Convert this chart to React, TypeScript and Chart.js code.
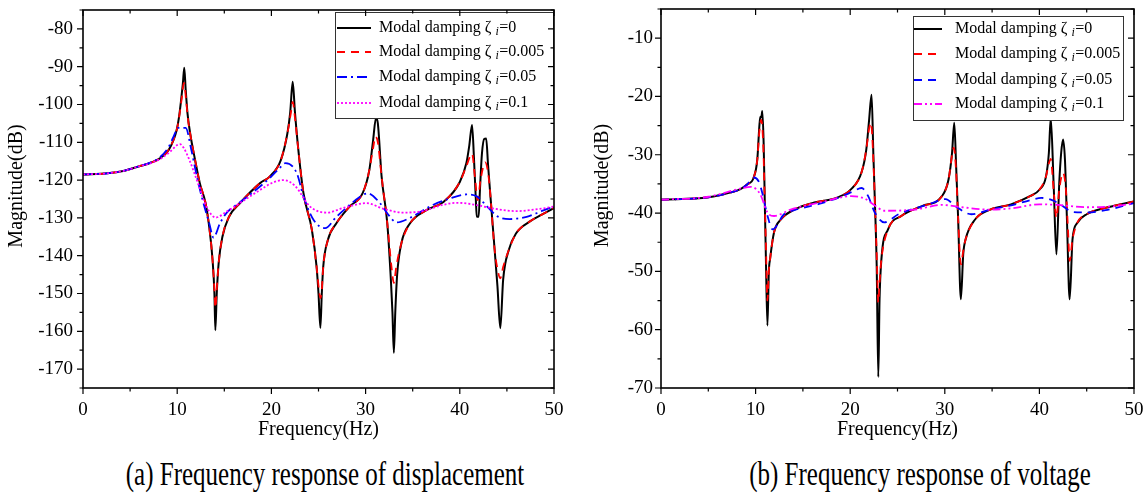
import { useEffect, useRef } from 'react';
import { Chart, registerables } from 'chart.js';

Chart.register(...registerables);

type Pt = [number, number];

const FONT = "'Liberation Serif', 'Times New Roman', Times, serif";

// ---------- texts & ticks ----------
const dampingLabels = ['0', '0.005', '0.05', '0.1'];
const xTickValues = [0, 10, 20, 30, 40, 50];
const dispYTickValues = [-170, -160, -150, -140, -130, -120, -110, -100, -90, -80];
const voltYTickValues = [-70, -60, -50, -40, -30, -20, -10];
const xLabel = 'Frequency(Hz)';
const yLabel = 'Magnitude(dB)';
const captionA = '(a) Frequency response of displacement';
const captionB = '(b) Frequency response of voltage';

// ---------- (a) displacement: [frequency Hz, magnitude dB] ----------
const dispZeta0: Pt[] = [
  [0, -118.5], [2.6, -118.2], [4.4, -117.5], [5.9, -116.4], [7.2, -115.4], [8.2, -114.2], [9.1, -112],
  [9.6, -109.4], [9.95, -106.7], [10.2, -103.2], [10.45, -98], [10.6, -94.5], [10.75, -90.3], [10.9, -96],
  [11.1, -102.5], [11.4, -108], [11.9, -114.7], [12.4, -120.8], [13.0, -126], [13.4, -132.4], [13.75, -141],
  [13.95, -150], [14.05, -159.7], [14.2, -150], [14.4, -142], [14.8, -135], [15.5, -129.7], [16.7, -126],
  [18.8, -120.8], [19.85, -119], [21.0, -114.7], [21.7, -107.6], [22.0, -102], [22.26, -94], [22.5, -102],
  [22.86, -112], [23.4, -123.4], [24.3, -133.2], [24.8, -143], [25.0, -150], [25.2, -159.1], [25.35, -150],
  [25.5, -143], [26.0, -135.8], [26.9, -131.4], [28.3, -127], [29.7, -123.4], [30.4, -117.3], [30.8, -109.4],
  [31.1, -103.6], [31.3, -105], [31.7, -119.1], [32.3, -131.4], [32.7, -147.2], [32.85, -155], [33.0, -165.7],
  [33.15, -155], [33.35, -145], [33.8, -136.7], [34.7, -131.5], [36.5, -127.9], [38.3, -125.7], [40.0, -120.5],
  [40.7, -115.5], [41.0, -111], [41.3, -105.4], [41.5, -114], [41.7, -125], [41.8, -129.7], [42.0, -129.7],
  [42.15, -122], [42.35, -113], [42.6, -109.1], [42.8, -109], [43.0, -116], [43.2, -122.6], [43.7, -138.5],
  [44.0, -148.2], [44.3, -159.2], [44.6, -146.4], [45.2, -138.5], [46.0, -134], [47.4, -131], [48.8, -129],
  [50, -127.4],
];
const dispZeta005: Pt[] = [
  [0, -118.5], [2.6, -118.2], [4.4, -117.5], [5.9, -116.4], [7.2, -115.4], [8.2, -114.2], [9.1, -112],
  [9.6, -109.4], [9.95, -106.7], [10.2, -103.4], [10.45, -99], [10.72, -94.3], [10.95, -99], [11.15, -104],
  [11.4, -108], [11.9, -114.7], [12.4, -120.8], [13.0, -126], [13.4, -132.4], [13.75, -141], [13.95, -149],
  [14.05, -153.8], [14.2, -149], [14.4, -142], [14.8, -135], [15.5, -129.7], [16.7, -126], [18.8, -120.8],
  [19.85, -119], [21.0, -114.7], [21.7, -107.6], [22.05, -102.5], [22.26, -99.3], [22.5, -103.5], [22.86, -112],
  [23.4, -123.4], [24.3, -133.2], [24.8, -143], [25.05, -149], [25.2, -151.2], [25.35, -149], [25.5, -143],
  [26.0, -135.8], [26.9, -131.4], [28.3, -127], [29.7, -123.4], [30.4, -117.3], [30.8, -111.5], [31.05, -108.5],
  [31.3, -110], [31.7, -119.1], [32.3, -131.4], [32.75, -143], [33.0, -147.2], [33.25, -143], [33.8, -136.7],
  [34.7, -131.5], [36.5, -127.9], [38.3, -125.7], [40.0, -120.5], [40.7, -116.3], [41.3, -113], [41.6, -119],
  [41.9, -125.3], [42.2, -120], [42.7, -115.3], [43.0, -118], [43.2, -122.6], [43.7, -138.5], [44.0, -143.5],
  [44.3, -146], [44.6, -143], [45.2, -138.5], [46.0, -134], [47.4, -131], [48.8, -129], [50, -127.4],
];
const dispZeta05: Pt[] = [
  [0, -118.5], [2.6, -118.2], [4.4, -117.5], [5.9, -116.4], [7.2, -115.3], [8.2, -113.9], [9.1, -111.2],
  [9.6, -108.6], [10.1, -106.2], [10.9, -106.2], [11.5, -112], [12.0, -118], [12.6, -124.4], [13.4, -131.4],
  [13.85, -135.2], [14.55, -131.4], [15.2, -128.8], [16.7, -125.8], [18.0, -123.3], [19.85, -119.4],
  [20.8, -117], [21.5, -115.5], [22.7, -118.2], [23.4, -124.3], [24.5, -130.6], [25.7, -132.7], [26.9, -129.7],
  [28.3, -126.6], [29.3, -124.6], [30.2, -123.5], [31.5, -126], [32.3, -128.8], [33.3, -131.2], [34.7, -130],
  [36.8, -127], [38.9, -124.9], [40.7, -123.8], [41.8, -124.3], [42.9, -127], [44.0, -129.6], [45.3, -130.3],
  [47.1, -129.7], [48.8, -128.1], [50, -127],
];
const dispZeta1: Pt[] = [
  [0, -118.5], [2.6, -118.2], [4.4, -117.5], [5.9, -116.4], [7.2, -115.5], [8.2, -114.4], [9.25, -112.5],
  [9.95, -110.8], [10.3, -110.5], [10.7, -111.5], [11.3, -114.7], [12.2, -120.8], [13.1, -127], [14.1, -129.9],
  [15.2, -128.4], [16.7, -126], [18.8, -122.6], [20.2, -120.6], [21.3, -120], [22.5, -121.5], [24.1, -127],
  [25.9, -128.6], [27.6, -127.4], [30.1, -126.1], [31.9, -127.6], [34, -128.6], [36, -128.2], [38.3, -126.5],
  [39.7, -126], [41.8, -126.6], [43.5, -127.5], [46, -128.2], [48.8, -127.5], [50, -127],
];

// ---------- (b) voltage: [frequency Hz, magnitude dB] ----------
const voltZeta0: Pt[] = [
  [0, -37.7], [5, -37.3], [7.5, -36.4], [8.4, -35.9], [9.1, -35.1], [9.8, -33.9], [10.18, -30.8], [10.4, -25],
  [10.5, -23.5], [10.6, -23.6], [10.71, -22.5], [10.85, -28], [10.97, -38], [11.07, -46.2], [11.25, -59.3],
  [11.4, -50], [11.53, -47.9], [11.95, -43.3], [12.67, -41.1], [14.1, -39.4], [16.2, -38.2], [18.7, -37.3],
  [20.1, -35.9], [21.2, -33], [21.7, -29.1], [22.0, -24], [22.26, -19.7], [22.45, -30], [22.6, -37.6],
  [22.8, -49], [22.97, -68.1], [23.1, -55], [23.3, -47.9], [24.0, -42.8], [25.4, -40.5], [27.6, -38.8],
  [29.7, -37.1], [30.4, -34.2], [30.77, -29.6], [31.0, -24.5], [31.2, -32], [31.4, -40.5], [31.7, -54.8],
  [31.95, -47], [32.2, -44.5], [33.2, -41.1], [34.8, -39.4], [37, -38.5], [39, -37.1], [40, -36], [40.7, -33.7],
  [41.0, -29.7], [41.2, -23.7], [41.5, -34.8], [41.8, -47.1], [42.1, -34.8], [42.3, -29.7], [42.5, -27.4],
  [42.7, -30.8], [42.9, -40.5], [43.2, -54.8], [43.5, -44.5], [44, -41.7], [45, -40.2], [47, -39.1], [50, -38],
];
const voltZeta005: Pt[] = [
  [0, -37.7], [5, -37.3], [7.5, -36.4], [8.4, -35.9], [9.1, -35.1], [9.8, -33.9], [10.18, -30.8], [10.4, -26],
  [10.6, -24], [10.8, -28], [10.97, -38], [11.1, -46], [11.25, -55], [11.4, -50], [11.53, -47.9], [11.95, -43.3],
  [12.67, -41.1], [14.1, -39.4], [16.2, -38.2], [18.7, -37.3], [20.1, -35.9], [21.2, -33], [21.7, -29.1],
  [22.0, -25.5], [22.2, -24.5], [22.45, -31], [22.6, -37.6], [22.8, -47], [22.97, -55.3], [23.1, -52],
  [23.3, -47.9], [24.0, -42.8], [25.4, -40.5], [27.6, -38.8], [29.7, -37.1], [30.4, -34.2], [30.77, -30],
  [30.95, -28.8], [31.2, -33], [31.4, -40.5], [31.7, -48.8], [31.95, -46.5], [32.2, -44.5], [33.2, -41.1],
  [34.8, -39.4], [37, -38.5], [39, -37.1], [40, -36], [40.7, -33.7], [41.0, -31.5], [41.2, -30.7], [41.5, -36],
  [41.8, -40.8], [42.1, -36], [42.5, -33.1], [42.8, -36], [43.0, -42], [43.2, -48.2], [43.5, -44.5], [44, -41.7],
  [45, -40.2], [47, -39.1], [50, -38],
];
const voltZeta05: Pt[] = [
  [0, -37.7], [5, -37.3], [7.5, -36.4], [8.4, -35.9], [9.1, -35.1], [9.8, -33.9], [10.3, -34.5], [10.7, -36.5],
  [11.25, -40.4], [11.8, -42.8], [13, -40.2], [14.1, -39.5], [17, -38.3], [19, -37.2], [20.3, -36.3],
  [21.2, -35.7], [21.9, -37.1], [22.6, -39.9], [23.6, -41.6], [25.1, -40.2], [28.3, -38.5], [30.1, -37.6],
  [31.1, -38.8], [32.8, -40.2], [34.8, -39.4], [37, -38.7], [39, -37.8], [40.2, -37.4], [41.2, -37.7],
  [42.2, -38.5], [43.5, -39.8], [45, -39.9], [47, -39.5], [50, -38.3],
];
const voltZeta1: Pt[] = [
  [0, -37.7], [5, -37.2], [8.4, -35.8], [9.5, -35.5], [10.5, -36.8], [11.25, -39.9], [11.95, -40.5],
  [13.7, -39.4], [17.3, -38], [20.1, -37.1], [21.5, -37.5], [22.6, -38.7], [23.6, -39.6], [26.8, -39.4],
  [29.7, -38.6], [31.8, -39], [34.8, -39.4], [37, -39.2], [40, -38.5], [42, -38.6], [45, -39], [48, -38.8],
  [50, -38.3],
];

// ---------- styling ----------
interface SeriesStyle { color: string; width: number; dash: number[] }
interface LegendStyle {
  left: number; top: number; width: number; height: number;
  rows: number[]; lineX0: number; lineX1: number; textX: number;
}
interface PanelCfg {
  x: number; width: number; height: number;
  padTop: number; padRight: number; padBottom: number; yAxisWidth: number; yTickPad: number;
  yMin: number; yMax: number; yTicks: number[];
  series: Pt[][]; styles: SeriesStyle[]; legend: LegendStyle;
  yTitleX: number; yTitleShift: number;
}

const stylesA: SeriesStyle[] = [
  { color: '#000000', width: 2, dash: [] },
  { color: '#ff0000', width: 1.8, dash: [8, 6] },
  { color: '#0000ff', width: 1.8, dash: [10, 4, 2, 4] },
  { color: '#ff00ff', width: 1.8, dash: [2, 2] },
];
const stylesB: SeriesStyle[] = [
  { color: '#000000', width: 2, dash: [] },
  { color: '#ff0000', width: 1.8, dash: [8, 6] },
  { color: '#0000ff', width: 1.8, dash: [8, 6] },
  { color: '#ff00ff', width: 1.8, dash: [8, 3, 2, 3, 2, 3] },
];

const panelA: PanelCfg = {
  x: 0, width: 575, height: 445, padTop: 10, padRight: 21, padBottom: 3, yAxisWidth: 83, yTickPad: 10,
  yMin: -175, yMax: -75, yTicks: dispYTickValues,
  series: [dispZeta0, dispZeta005, dispZeta05, dispZeta1], styles: stylesA,
  legend: { left: 335, top: 12, width: 218, height: 106, rows: [28, 52, 77, 103], lineX0: 337, lineX1: 371, textX: 379 },
  yTitleX: 16.5, yTitleShift: -13,
};
const panelB: PanelCfg = {
  x: 575, width: 568, height: 445, padTop: 9, padRight: 9, padBottom: 3, yAxisWidth: 86, yTickPad: 8,
  yMin: -70, yMax: -5, yTicks: voltYTickValues,
  series: [voltZeta0, voltZeta005, voltZeta05, voltZeta1], styles: stylesB,
  legend: { left: 338, top: 16, width: 210, height: 104, rows: [29, 54, 80, 104], lineX0: 339, lineX1: 367, textX: 380 },
  yTitleX: 28, yTitleShift: -13,
};

function decorPlugin(cfg: PanelCfg) {
  return {
    id: 'panelDecor',
    afterDatasetsDraw(chart: any) {
      const ctx: CanvasRenderingContext2D = chart.ctx;
      const lg = cfg.legend;
      ctx.save();
      ctx.fillStyle = '#ffffff';
      ctx.fillRect(lg.left, lg.top, lg.width, lg.height);
      ctx.strokeStyle = '#333333';
      ctx.lineWidth = 1;
      ctx.strokeRect(lg.left + 0.5, lg.top + 0.5, lg.width, lg.height);
      dampingLabels.forEach((lab, i) => {
        const st = cfg.styles[i];
        const y = lg.rows[i];
        ctx.beginPath();
        ctx.setLineDash(st.dash);
        ctx.strokeStyle = st.color;
        ctx.lineWidth = st.width;
        ctx.moveTo(lg.lineX0, y);
        ctx.lineTo(lg.lineX1, y);
        ctx.stroke();
        ctx.setLineDash([]);
        ctx.fillStyle = '#000';
        ctx.textBaseline = 'middle';
        ctx.textAlign = 'left';
        ctx.font = `16px ${FONT}`;
        const head = 'Modal damping \u03b6 ';
        ctx.fillText(head, lg.textX, y);
        let xx = lg.textX + ctx.measureText(head).width;
        ctx.font = `italic 12px ${FONT}`;
        ctx.fillText('i', xx, y + 4);
        xx += ctx.measureText('i').width + 0.5;
        ctx.font = `16px ${FONT}`;
        ctx.fillText('=' + lab, xx, y);
      });
      ctx.restore();
    },
    afterDraw(chart: any) {
      const ctx: CanvasRenderingContext2D = chart.ctx;
      const { left, right, top, bottom } = chart.chartArea;
      const xs = chart.scales.x;
      const ys = chart.scales.y;
      ctx.save();
      ctx.strokeStyle = '#000';
      ctx.lineWidth = 1.2;
      ctx.setLineDash([]);
      ctx.beginPath();
      for (let v = xs.min; v <= xs.max + 1e-9; v += 5) {
        const px = xs.getPixelForValue(v);
        const L = Math.abs(v % 10) < 1e-9 ? 6 : 3.5;
        ctx.moveTo(px, bottom); ctx.lineTo(px, bottom + L);
        ctx.moveTo(px, top); ctx.lineTo(px, top + L);
      }
      for (let v = ys.min; v <= ys.max + 1e-9; v += 5) {
        const py = ys.getPixelForValue(v);
        const L = Math.abs(v % 10) < 1e-9 ? 6 : 3.5;
        ctx.moveTo(left - L, py); ctx.lineTo(left, py);
        ctx.moveTo(right - L, py); ctx.lineTo(right, py);
      }
      ctx.stroke();
      ctx.lineWidth = 1.6;
      ctx.strokeRect(left, top, right - left, bottom - top);
      // y axis title
      ctx.fillStyle = '#000';
      ctx.font = `20px ${FONT}`;
      ctx.textAlign = 'center';
      ctx.textBaseline = 'middle';
      ctx.translate(cfg.yTitleX, (top + bottom) / 2 + cfg.yTitleShift);
      ctx.rotate(-Math.PI / 2);
      ctx.fillText(yLabel, 0, 0);
      ctx.restore();
    },
  };
}

function Panel({ cfg }: { cfg: PanelCfg }) {
  const ref = useRef<HTMLCanvasElement>(null);
  useEffect(() => {
    const canvas = ref.current;
    if (!canvas) return;
    const chart = new Chart(canvas, {
      type: 'line',
      data: {
        datasets: cfg.series.map((s, i) => ({
          label: 'Modal damping \u03b6i=' + dampingLabels[i],
          data: s.map(([x, y]) => ({ x, y })),
          borderColor: cfg.styles[i].color,
          borderWidth: cfg.styles[i].width,
          borderDash: cfg.styles[i].dash,
          pointRadius: 0,
          fill: false,
          cubicInterpolationMode: 'monotone',
          order: 4 - i,
        })),
      },
      options: {
        animation: false,
        responsive: false,
        devicePixelRatio: 1,
        events: [],
        layout: { padding: { left: 0, right: cfg.padRight, top: cfg.padTop, bottom: cfg.padBottom } },
        plugins: { legend: { display: false }, tooltip: { enabled: false }, title: { display: false } },
        scales: {
          x: {
            type: 'linear',
            min: 0,
            max: 50,
            afterBuildTicks: (s: any) => { s.ticks = xTickValues.map((v) => ({ value: v })); },
            afterFit: (s: any) => { s.height = 54; s.paddingLeft = 0; s.paddingRight = 0; },
            grid: { display: false, drawTicks: false },
            border: { display: false },
            ticks: {
              color: '#000', padding: 13, maxRotation: 0, autoSkip: false,
              font: { family: FONT, size: 19, lineHeight: 1 },
            },
            title: {
              display: true, text: xLabel, color: '#000',
              font: { family: FONT, size: 20, lineHeight: 1.2 }, padding: { top: 0, bottom: 0 },
            },
          },
          y: {
            type: 'linear',
            min: cfg.yMin,
            max: cfg.yMax,
            afterBuildTicks: (s: any) => { s.ticks = cfg.yTicks.map((v) => ({ value: v })); },
            afterFit: (s: any) => { s.width = cfg.yAxisWidth; s.paddingTop = 0; s.paddingBottom = 0; },
            grid: { display: false, drawTicks: false },
            border: { display: false },
            ticks: {
              color: '#000', padding: cfg.yTickPad, autoSkip: false,
              font: { family: FONT, size: 19, lineHeight: 1 },
            },
            title: { display: false },
          },
        },
      },
      plugins: [decorPlugin(cfg)],
    } as any);
    return () => chart.destroy();
  }, [cfg]);
  return (
    <canvas
      ref={ref}
      width={cfg.width}
      height={cfg.height}
      style={{ position: 'absolute', left: cfg.x, top: 0, width: cfg.width, height: cfg.height }}
    />
  );
}

function Caption({ text, center }: { text: string; center: number }) {
  return (
    <div
      style={{
        position: 'absolute', left: center - 300, width: 600, top: 457, textAlign: 'center',
        fontFamily: FONT, fontSize: 25, lineHeight: '25px', color: '#000', whiteSpace: 'nowrap',
        transform: 'scaleY(1.35)', transformOrigin: 'top',
      }}
    >
      {text}
    </div>
  );
}

export default function App() {
  return (
    <div style={{ position: 'absolute', left: 0, top: 0, width: 1143, height: 496, background: '#fff', overflow: 'hidden' }}>
      <Panel cfg={panelA} />
      <Panel cfg={panelB} />
      <Caption text={captionA} center={325} />
      <Caption text={captionB} center={920} />
    </div>
  );
}
